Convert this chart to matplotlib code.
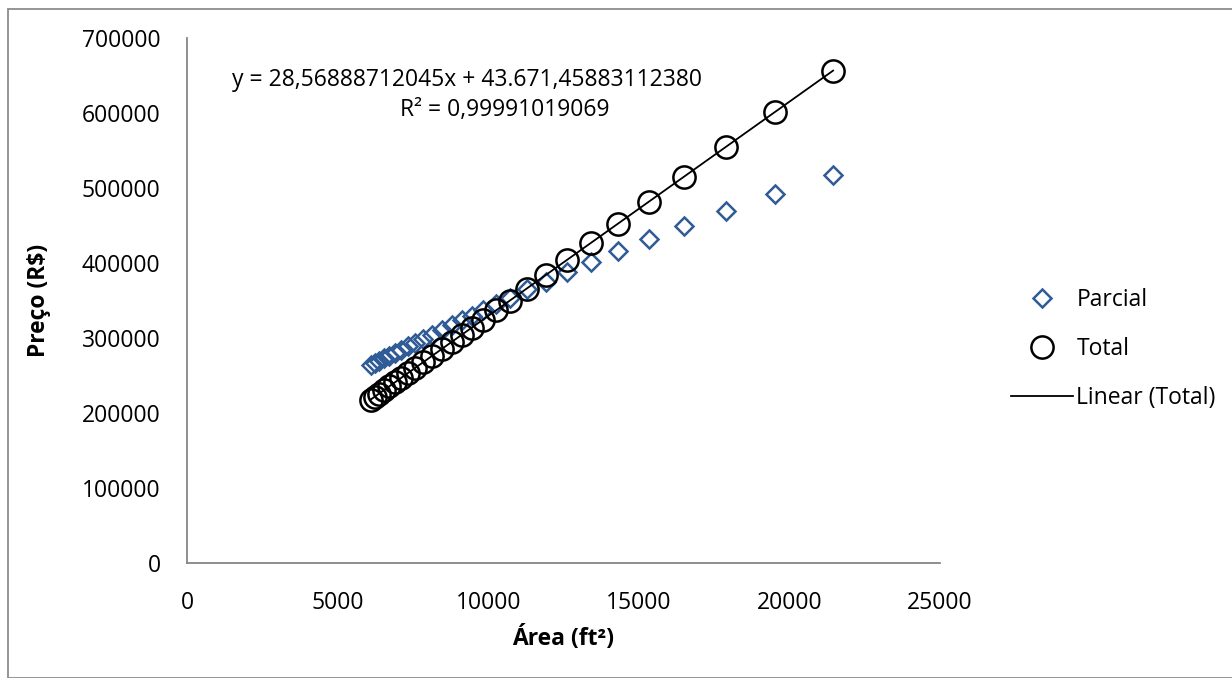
import numpy as np
import matplotlib
matplotlib.use("Agg")
from matplotlib import pyplot as plt
from matplotlib.patches import Rectangle

plt.rcParams['font.family'] = ['Open Sans', 'DejaVu Sans']

# dados
area = [6100, 6240, 6370, 6540, 6710, 6900, 7100, 7340, 7570, 7840,
        8130, 8470, 8800, 9130, 9460, 9830, 10260, 10720, 11290, 11920,
        12620, 13410, 14310, 15340, 16500, 17900, 19520, 21450]
parcial = [264000, 267000, 269500, 273000, 276000, 280000, 284000, 289000,
           293500, 299000, 304500, 311000, 317500, 324000, 330000, 337000,
           345500, 354000, 365000, 375000, 388000, 401000, 416000, 432000,
           449000, 470000, 492000, 518000]
total = [218000, 222000, 225500, 230500, 235500, 241000, 246500, 253500,
         260000, 267500, 276000, 285500, 295000, 304500, 314000, 324500,
         337000, 350000, 366000, 384000, 404000, 427000, 452500, 482000,
         515000, 555000, 601500, 656500]
eq_text = "y = 28,56888712045x + 43.671,45883112380"
r2_text = "R² = 0,99991019069"

fs = 16.5
fig = plt.figure(figsize=(12.32, 6.78), dpi=100)
ax = fig.add_axes([187/1232, 1-563/678, 753/1232, 525/678])

# borda do grafico
fig.patches.append(Rectangle((8/1232, 0), 1.2, 1-9/678, transform=fig.transFigure,
                             fill=False, edgecolor='#8c8c8c', linewidth=1.3))

ax.plot(area, parcial, linestyle='none', marker='D', markersize=9,
        markerfacecolor='none', markeredgecolor='#2f5b96', markeredgewidth=1.8,
        label='Parcial')
ax.plot(area, total, linestyle='none', marker='o', markersize=16,
        markerfacecolor='none', markeredgecolor='black', markeredgewidth=1.8,
        label='Total')
coef = np.polyfit(area, total, 1)
xs = np.array([area[0], area[-1]])
ax.plot(xs, np.polyval(coef, xs), color='black', linewidth=1.3, label='Linear (Total)')

ax.set_xlim(0, 25000)
ax.set_ylim(0, 700000)
ax.set_xticks(range(0, 25001, 5000))
ax.set_yticks(range(0, 700001, 100000))
ax.tick_params(axis='y', length=0, labelsize=fs, pad=19)
ax.tick_params(axis='x', length=0, labelsize=fs, pad=20)
for s in ['top', 'right']:
    ax.spines[s].set_visible(False)
for s in ['left', 'bottom']:
    ax.spines[s].set_color('#868686')
    ax.spines[s].set_linewidth(1.3)

ax.set_xlabel('Área (ft²)', fontsize=fs, fontweight='bold', labelpad=8)
ax.set_ylabel('Preço (R$)', fontsize=fs, fontweight='bold', labelpad=22)

fig.text(467/1232, 1-80/678, eq_text, fontsize=fs, ha='center', va='center')
fig.text(505/1232, 1-110/678, r2_text, fontsize=fs, ha='center', va='center')

ax.legend(loc='center left', bbox_to_anchor=(1011/1232, 1-349/678),
          bbox_transform=fig.transFigure, frameon=False, fontsize=fs,
          handlelength=2.7, handletextpad=0.15, labelspacing=1.1, borderpad=0,
          borderaxespad=0)

fig.savefig('out.png', dpi=100)
